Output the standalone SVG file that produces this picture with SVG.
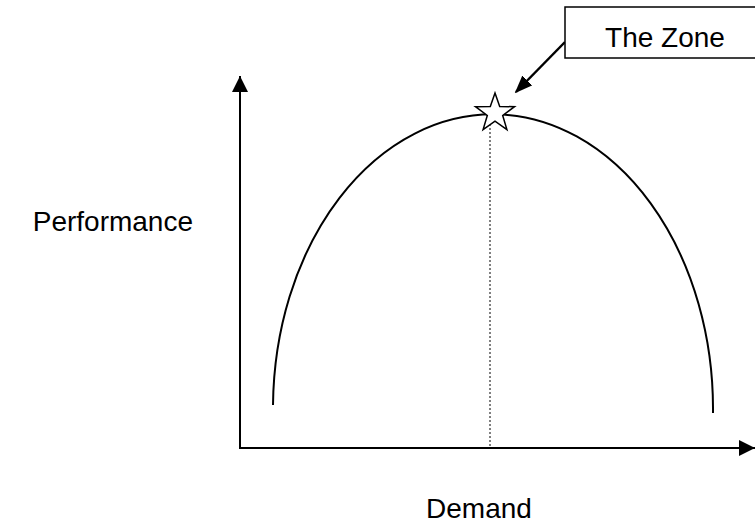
<svg xmlns="http://www.w3.org/2000/svg" width="755" height="525" viewBox="0 0 755 525">
<defs>
<style>
.t{font-family:"Liberation Sans",Arial,sans-serif;font-size:28px;fill:#000}
.ln{stroke:#000;stroke-width:2;fill:none}
</style>
<marker id="ah" viewBox="0 0 10 10" refX="9" refY="5" markerWidth="18" markerHeight="14" markerUnits="userSpaceOnUse" orient="auto" preserveAspectRatio="none">
<path d="M0,0 L10,5 L0,10 z" fill="#000"/>
</marker>
<marker id="ax" viewBox="0 0 10 10" refX="10" refY="5" markerWidth="16" markerHeight="16" markerUnits="userSpaceOnUse" orient="auto">
<path d="M0,0 L10,5 L0,10 z" fill="#000"/>
</marker>
</defs>
<rect width="755" height="525" fill="#fff"/>
<g id="connectors">
<line class="ln" x1="240" y1="449" x2="240" y2="76" stroke-width="2.5" marker-end="url(#ax)"/>
<line class="ln" x1="239" y1="448" x2="755" y2="448" stroke-width="2.5" marker-end="url(#ax)"/>
<line x1="490" y1="120" x2="490" y2="447" stroke="#000" stroke-width="1" stroke-dasharray="2,2"/>
<path class="ln" d="M273,405 A218 292 0 0 1 713,413" stroke-width="1.5"/>
<line x1="565" y1="42" x2="516" y2="92" stroke="#000" stroke-width="2.5" marker-end="url(#ah)"/>
</g>
<g id="star">
<polygon points="495,93 499.7,106.5 514.5,106.7 502.7,115.5 506.9,129.6 495,121.2 483.1,129.6 487.3,115.5 475.5,106.7 490.3,106.5" fill="#fff" stroke="#000" stroke-width="1.5"/>
</g>
<g id="zone">
<rect x="565" y="7" width="195" height="51" fill="#fff" stroke="#000" stroke-width="1.5"/>
<text class="t" x="665" y="47" text-anchor="middle">The Zone</text>
</g>
<g id="ylabel"><text class="t" x="193" y="231" text-anchor="end">Performance</text></g>
<g id="xlabel"><text class="t" x="479" y="518" text-anchor="middle">Demand</text></g>
</svg>
